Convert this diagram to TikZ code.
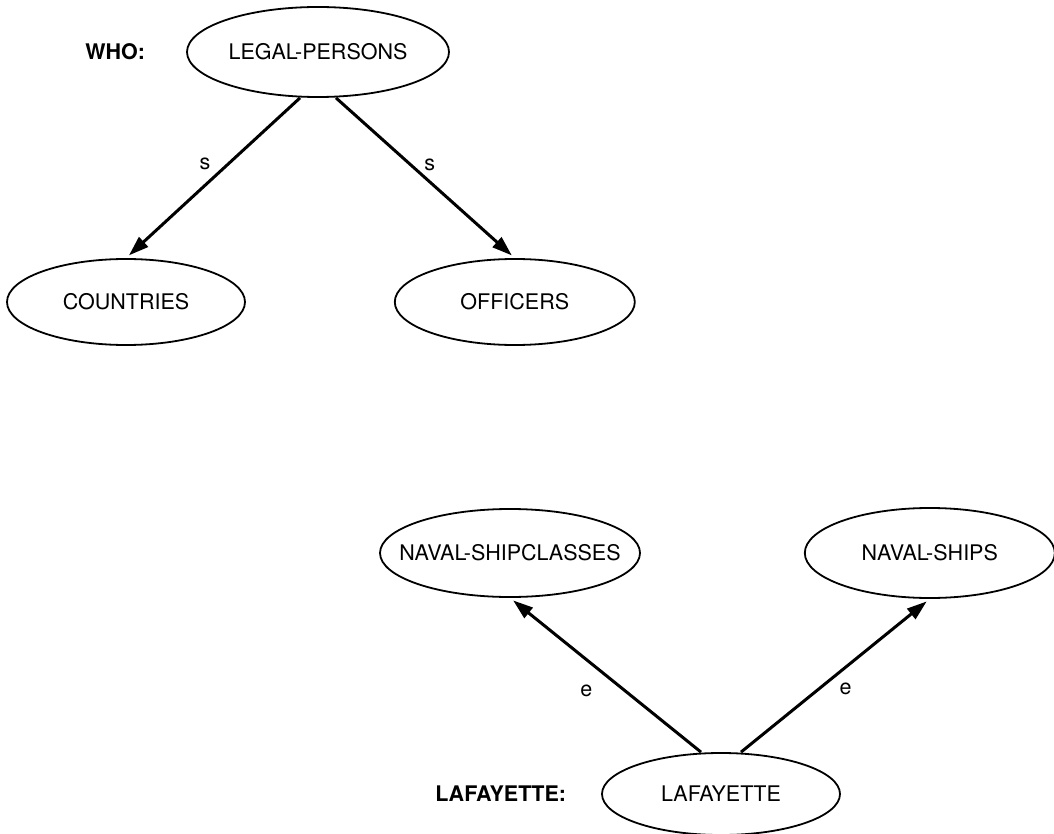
\documentclass[tikz,border=0pt]{standalone}
\usepackage{fontspec}
\setmainfont{TeX Gyre Heros}
\usetikzlibrary{positioning}
\usetikzlibrary{shapes.geometric}
\usetikzlibrary{arrows.meta}

\begin{document}
\begin{tikzpicture}[x=0.5pt, y=-0.5pt, font=\fontsize{10.75}{13}\selectfont,
		concept/.style={draw, ellipse, line width=0.9pt, inner xsep=-12pt, inner ysep=0pt},
		isa/.style={line width=1.5pt, -{Triangle[length=10pt,width=6.5pt]}, shorten >=2pt},
		tag/.style={font=\fontsize{10.75}{13}\selectfont\bfseries}]
		\useasboundingbox (0,0) rectangle (1054,834);
		\node [concept, minimum width=131pt, minimum height=45pt] at (318,52) (legal) {LEGAL-PERSONS};
		\node [tag, left=17pt of legal] (who) {WHO:};
		\node [concept, minimum width=119pt, minimum height=43pt] at (126,302) (countries) {COUNTRIES};
		\node [concept, minimum width=120pt, minimum height=43pt, right=74pt of countries] (officers) {OFFICERS};
		\node [concept, minimum width=130pt, minimum height=44pt] at (510,553) (shipcls) {NAVAL-SHIPCLASSES};
		\node [concept, minimum width=125pt, minimum height=45pt, right=81.5pt of shipcls] (ships) {NAVAL-SHIPS};
		\node [concept, minimum width=119pt, minimum height=41pt] at (721,794) (lafay) {LAFAYETTE};
		\node [tag, left=14pt of lafay] (lafaytag) {LAFAYETTE:};
		\draw [isa] ([xshift=-9pt]legal.south) -- node [pos=.41, left=5pt] {s} (countries.north);
		\draw [isa] ([xshift=9pt]legal.south) -- node [pos=.42, right=2.5pt] {s} (officers.north);
		\draw [isa] ([xshift=-10pt]lafay.north) -- node [pos=.4, left=12pt] {e} (shipcls.south);
		\draw [isa] ([xshift=10pt]lafay.north) -- node [pos=.41, right=6.5pt] {e} (ships.south);
		\end{tikzpicture}
\end{document}
